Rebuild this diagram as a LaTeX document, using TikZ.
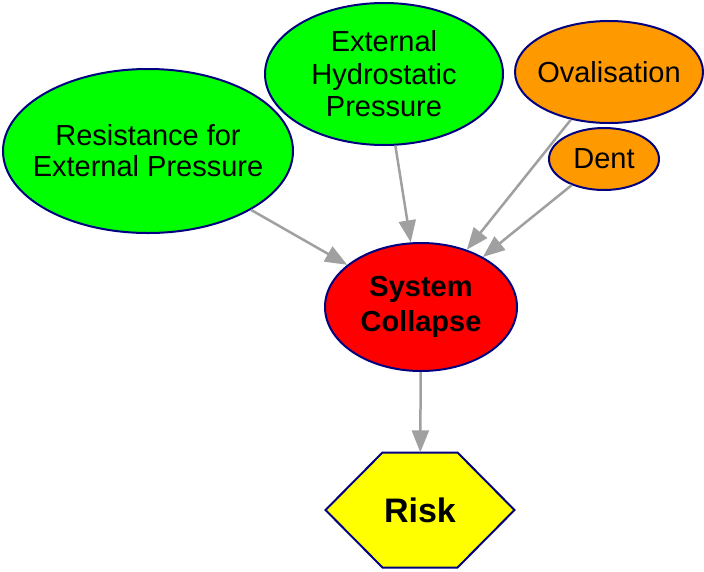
\documentclass[tikz,border=0pt]{standalone}
\usepackage{fontspec}
\setmainfont{Liberation Sans}
\usetikzlibrary{shapes.geometric,arrows.meta}

\definecolor{nodeline}{HTML}{000080}
\definecolor{leafgreen}{HTML}{00FF00}
\definecolor{causeorange}{HTML}{FF9900}
\definecolor{eventred}{HTML}{FF0000}
\definecolor{riskyellow}{HTML}{FFFF00}
\definecolor{linkgray}{HTML}{A0A0A0}

\tikzset{
  chance/.style={ellipse, draw=nodeline, line width=2pt, inner sep=-30pt,
    align=center, font=\fontsize{29}{31}\selectfont},
  greenchance/.style={chance, fill=leafgreen},
  orangechance/.style={chance, fill=causeorange},
  redchance/.style={chance, fill=eventred,
    font=\fontsize{29}{35}\selectfont\bfseries},
  hexbody/.style={fill=riskyellow, draw=nodeline, line width=2pt, line join=miter},
  link/.style={draw=linkgray, line width=2.5pt,
    -{Triangle[length=22pt,width=17pt]}},
}

\begin{document}
\begin{tikzpicture}[x=1pt,y=-1pt]
  \useasboundingbox (0,0) rectangle (704,571);

  % causes
  \node[greenchance, minimum width=290pt, minimum height=164pt]
    (res) at (148,151) {Resistance for\\External Pressure};
  \node[greenchance, minimum width=238pt, minimum height=142pt,
    font=\fontsize{29}{32.5}\selectfont]
    (ehp) at (384,74) {External\\Hydrostatic\\Pressure};
  \node[orangechance, minimum width=188pt, minimum height=102pt]
    (ova) at (609,72) {Ovalisation};
  \node[orangechance, minimum width=110pt, minimum height=62pt]
    (dent) at (604,159) {Dent};

  % event
  \node[redchance, minimum width=192pt, minimum height=128pt]
    (sys) at (421,307) {System\\Collapse};

  % risk hexagon, then its label on top
  \draw[hexbody] (325.5,510) -- (382.5,452.5) -- (457.5,452.5) -- (514.5,510)
    -- (457.5,567.5) -- (382.5,567.5) -- cycle;
  \node[minimum width=189pt, minimum height=115pt, inner sep=0pt,
    font=\fontsize{34}{38}\selectfont\bfseries]
    (risk) at (420,510) {Risk};

  % influences
  \draw[link] (res) -- (sys);
  \draw[link] (ehp) -- (sys);
  \draw[link] (ova) -- (sys);
  \draw[link] (dent) -- (sys);
  \draw[link] (sys) -- (risk);
\end{tikzpicture}
\end{document}
